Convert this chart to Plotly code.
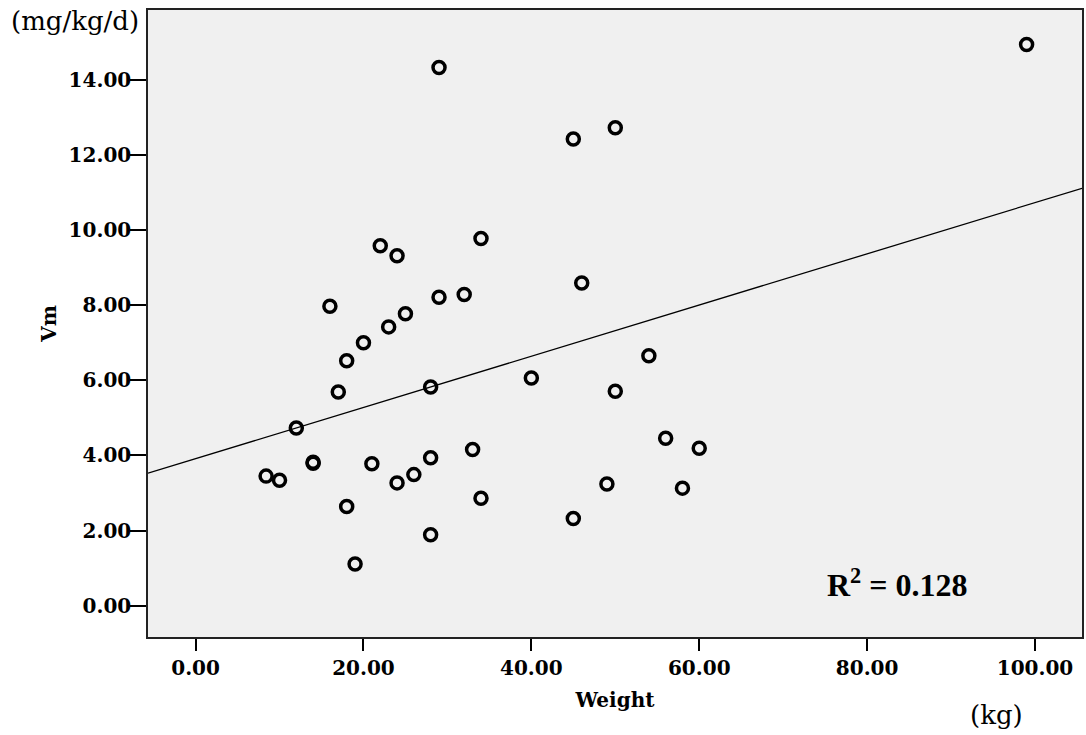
import numpy as np
import plotly.graph_objects as go

# Data
weight = [8.4, 10, 12, 14, 14, 16, 17, 18, 18, 19, 20, 21, 22, 23, 24, 24, 25, 26,
          28, 28, 28, 29, 29, 32, 33, 34, 34, 40, 45, 45, 46, 49, 50, 50, 54, 56,
          58, 60, 99]
vm = [3.45, 3.34, 4.73, 3.79, 3.82, 7.97, 5.69, 6.52, 2.64, 1.11, 7.00, 3.78, 9.58,
      7.42, 9.31, 3.27, 7.77, 3.49, 5.82, 3.94, 1.89, 14.32, 8.21, 8.28, 4.16, 9.77,
      2.86, 6.06, 12.42, 2.32, 8.59, 3.24, 12.72, 5.71, 6.65, 4.46, 3.13, 4.19, 14.93]
r2_text = "R<sup>2</sup> = 0.128"
x_tickvals = [0, 20, 40, 60, 80, 100]
y_tickvals = [0, 2, 4, 6, 8, 10, 12, 14]

x_range = [-5.67, 105.6]
y_range = [-0.83, 15.85]

slope, intercept = np.polyfit(weight, vm, 1)
fit_x = np.array(x_range)
fit_y = intercept + slope * fit_x

fig = go.Figure()
fig.add_trace(go.Scatter(
    x=fit_x, y=fit_y, mode="lines",
    line=dict(color="black", width=1.3), hoverinfo="skip", showlegend=False))
fig.add_trace(go.Scatter(
    x=weight, y=vm, mode="markers",
    marker=dict(symbol="circle-open", size=12, color="black",
                line=dict(color="black", width=3.5)),
    showlegend=False))

tick_font = dict(family="DejaVu Serif", size=20, color="black", weight="bold")
title_font = dict(family="DejaVu Serif", size=20, color="black", weight="bold")

fig.update_layout(
    width=1086, height=735,
    margin=dict(l=148, r=2, t=10, b=98),
    paper_bgcolor="white", plot_bgcolor="#f0f0f0",
    xaxis=dict(range=x_range, tickvals=x_tickvals, tickformat=".2f",
               showgrid=False, zeroline=False, ticks="outside", ticklen=12,
               tickwidth=2, tickcolor="black", tickfont=tick_font,
               showline=True, linecolor="#222", linewidth=1.5, mirror=True,
               title=dict(text="Weight", font=title_font, standoff=14)),
    yaxis=dict(range=y_range, tickvals=y_tickvals, tickformat=".2f",
               showgrid=False, zeroline=False, ticks="outside", ticklen=16,
               tickwidth=2, tickcolor="black", tickfont=tick_font,
               ticklabelstandoff=-5,
               showline=True, linecolor="#222", linewidth=1.5, mirror=True,
               title=dict(text="Vm", font=title_font, standoff=7)),
    annotations=[
        dict(text="(mg/kg/d)", xref="paper", yref="paper", x=-0.0782, y=0.9825,
             xanchor="center", yanchor="middle", showarrow=False,
             font=dict(family="DejaVu Serif", size=26, color="black")),
        dict(text="(kg)", xref="paper", yref="paper", x=0.908, y=-0.1244,
             xanchor="center", yanchor="middle", showarrow=False,
             font=dict(family="DejaVu Serif", size=26, color="black")),
        dict(text=r2_text, xref="x", yref="y", x=83.6, y=0.6,
             xanchor="center", yanchor="middle", showarrow=False,
             font=dict(family="Liberation Serif", size=32, color="black",
                       weight="bold")),
    ],
)

fig.write_html("out.html", config={"displayModeBar": False},
               post_script="document.body.style.margin='0';")
